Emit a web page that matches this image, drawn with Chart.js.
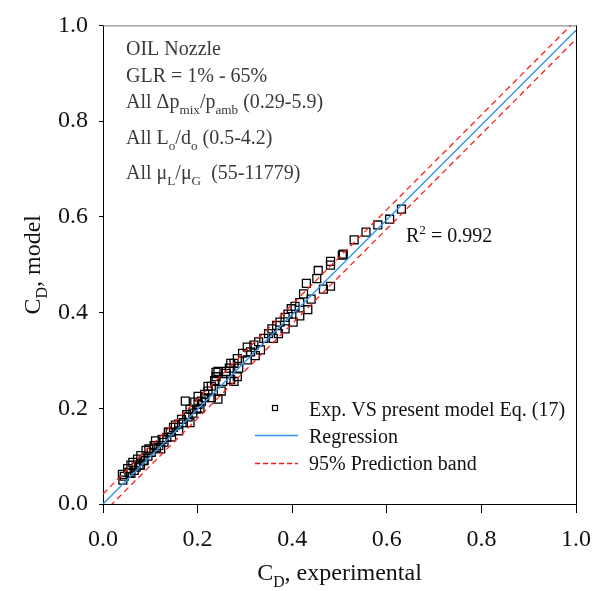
<!DOCTYPE html>
<html>
<head>
<meta charset="utf-8">
<script src="https://cdn.jsdelivr.net/npm/chart.js@4.4.1/dist/chart.umd.min.js"></script>
<style>
  html, body { margin: 0; padding: 0; background: #fff; }
</style>
</head>
<body>
<canvas id="cdChart" width="603" height="591"></canvas>
<script>
// experimental vs model discharge coefficient
const expCD = [
  0.041, 0.042, 0.045, 0.052, 0.055, 0.059, 0.059, 0.063, 0.066, 0.070,
  0.073, 0.076, 0.079, 0.080, 0.085, 0.087, 0.091, 0.095, 0.097, 0.102,
  0.108, 0.111, 0.113, 0.118, 0.122, 0.125, 0.129, 0.135, 0.138, 0.142,
  0.145, 0.149, 0.153, 0.160, 0.160, 0.166, 0.170, 0.174, 0.177, 0.180,
  0.184, 0.184, 0.190, 0.194, 0.198, 0.201, 0.201, 0.205, 0.208, 0.215,
  0.215, 0.222, 0.222, 0.229, 0.229, 0.236, 0.236, 0.239, 0.239, 0.243,
  0.243, 0.250, 0.253, 0.260, 0.260, 0.267, 0.270, 0.270, 0.277, 0.277,
  0.284, 0.284, 0.287, 0.295, 0.305, 0.305, 0.312, 0.319, 0.322, 0.329,
  0.333, 0.340, 0.350, 0.357, 0.360, 0.367, 0.371, 0.374, 0.385, 0.385,
  0.391, 0.398, 0.402, 0.406, 0.416, 0.416, 0.424, 0.430, 0.433, 0.440,
  0.452, 0.455, 0.466, 0.481, 0.481, 0.481, 0.506, 0.508, 0.531, 0.556,
  0.581, 0.606, 0.631
];
const modelCD = [
  0.062, 0.050, 0.058, 0.074, 0.066, 0.081, 0.064, 0.087, 0.070, 0.077,
  0.094, 0.081, 0.081, 0.101, 0.090, 0.091, 0.112, 0.100, 0.115, 0.108,
  0.122, 0.132, 0.118, 0.122, 0.115, 0.135, 0.129, 0.139, 0.150, 0.150,
  0.140, 0.160, 0.165, 0.167, 0.153, 0.177, 0.170, 0.215, 0.187, 0.182,
  0.198, 0.170, 0.190, 0.213, 0.198, 0.225, 0.208, 0.200, 0.215, 0.222,
  0.229, 0.236, 0.246, 0.222, 0.246, 0.256, 0.258, 0.266, 0.275, 0.277,
  0.219, 0.236, 0.256, 0.273, 0.277, 0.284, 0.260, 0.294, 0.256, 0.294,
  0.266, 0.304, 0.284, 0.315, 0.301, 0.328, 0.318, 0.332, 0.310, 0.339,
  0.322, 0.346, 0.356, 0.366, 0.346, 0.373, 0.356, 0.380, 0.366, 0.390,
  0.397, 0.408, 0.380, 0.413, 0.421, 0.393, 0.439, 0.461, 0.406, 0.428,
  0.471, 0.488, 0.449, 0.455, 0.499, 0.507, 0.520, 0.522, 0.552, 0.568,
  0.583, 0.595, 0.616
];

// regression and 95% prediction band end points
const lineX = [0, 1];
const regressionY = [0.0, 0.99];
const upperBandY = [0.021, 1.011];
const lowerBandY = [-0.019, 0.971];

const tickValues = [0, 0.2, 0.4, 0.6, 0.8, 1.0];
const tickLabels = ['0.0', '0.2', '0.4', '0.6', '0.8', '1.0'];

const SERIF = '"Liberation Serif", "Times New Roman", serif';
const BLUE = '#3593ee';
const RED = '#ff1e1e';

const toXY = (xs, ys) => xs.map((x, i) => ({ x: x, y: ys[i] }));

// draw text with sub/superscripts, parts = [[text, mode], ...]
function richText(ctx, x, y, parts, size) {
  let cx = x;
  for (const [t, m] of parts) {
    const s = m ? size * 0.66 : size;
    ctx.font = s + 'px ' + SERIF;
    const dy = m === 'sub' ? size * 0.28 : (m === 'sup' ? -size * 0.42 : 0);
    ctx.fillText(t, cx, y + dy);
    cx += ctx.measureText(t).width;
  }
  return cx - x;
}
function richWidth(ctx, parts, size) {
  let w = 0;
  for (const [t, m] of parts) {
    ctx.font = (m ? size * 0.66 : size) + 'px ' + SERIF;
    w += ctx.measureText(t).width;
  }
  return w;
}

const notesPlugin = {
  id: 'notes',
  afterDraw(chart) {
    const ctx = chart.ctx;
    const a = chart.chartArea;
    ctx.save();

    // frame: grey top, black right
    ctx.lineWidth = 1;
    ctx.strokeStyle = '#777';
    ctx.beginPath(); ctx.moveTo(a.left, a.top + 0.5); ctx.lineTo(a.right, a.top + 0.5); ctx.stroke();
    ctx.strokeStyle = '#000';
    ctx.beginPath(); ctx.moveTo(a.right + 0.5, a.top); ctx.lineTo(a.right + 0.5, a.bottom); ctx.stroke();

    ctx.textBaseline = 'alphabetic';
    ctx.textAlign = 'left';

    // info block
    ctx.fillStyle = '#3a3a3a';
    const info = [
      [['OIL Nozzle']],
      [['GLR = 1% - 65%']],
      [['All \u0394p'], ['mix', 'sub'], ['/p'], ['amb', 'sub'], [' (0.29-5.9)']],
      [['All L'], ['o', 'sub'], ['/d'], ['o', 'sub'], [' (0.5-4.2)']],
      [['All \u03bc'], ['L', 'sub'], ['/\u03bc'], ['G', 'sub'], ['  (55-11779)']]
    ];
    const infoY = [55, 82, 108, 144, 179];
    info.forEach((p, i) => richText(ctx, 126, infoY[i], p, 20));

    // R squared
    ctx.fillStyle = '#111';
    richText(ctx, 406, 242, [['R'], ['2', 'sup'], [' = 0.992']], 20);

    // legend
    ctx.fillStyle = '#111';
    ctx.strokeStyle = '#000';
    ctx.lineWidth = 1.2;
    ctx.strokeRect(272.5, 405.5, 5, 5);
    richText(ctx, 309, 416, [['Exp. VS present model Eq. (17)']], 20);
    ctx.strokeStyle = BLUE;
    ctx.lineWidth = 1.4;
    ctx.beginPath(); ctx.moveTo(255, 435.5); ctx.lineTo(298, 435.5); ctx.stroke();
    richText(ctx, 309, 443, [['Regression']], 20);
    ctx.strokeStyle = RED;
    ctx.lineWidth = 1.3;
    ctx.setLineDash([5, 3]);
    ctx.beginPath(); ctx.moveTo(255, 463.5); ctx.lineTo(298, 463.5); ctx.stroke();
    ctx.setLineDash([]);
    richText(ctx, 309, 470, [['95% Prediction band']], 20);

    // axis titles
    ctx.fillStyle = '#111';
    const xt = [['C'], ['D', 'sub'], [', experimental']];
    const xw = richWidth(ctx, xt, 24);
    richText(ctx, (a.left + a.right) / 2 - xw / 2, 580, xt, 24);

    const yt = [['C'], ['D', 'sub'], [', model']];
    const yw = richWidth(ctx, yt, 24);
    ctx.translate(40, (a.top + a.bottom) / 2);
    ctx.rotate(-Math.PI / 2);
    richText(ctx, -yw / 2, 0, yt, 24);

    ctx.restore();
  }
};

const axisCommon = (tickLen, pad) => ({
  type: 'linear',
  min: 0,
  max: 1,
  afterBuildTicks: s => { s.ticks = tickValues.map(v => ({ value: v })); },
  ticks: {
    callback: (v, i) => tickLabels[i],
    color: '#111',
    font: { family: SERIF, size: 24 },
    padding: pad,
    maxRotation: 0,
    autoSkip: false
  },
  grid: {
    display: true,
    drawOnChartArea: false,
    drawTicks: true,
    tickLength: tickLen,
    color: '#000',
    lineWidth: 1
  },
  border: { display: true, color: '#000', width: 1 }
});

const xAxis = axisCommon(9, 12);
xAxis.afterFit = s => { s.height = 87; };
const yAxis = axisCommon(4, 11);
yAxis.afterFit = s => { s.width = 103; };

new Chart(document.getElementById('cdChart').getContext('2d'), {
  type: 'scatter',
  data: {
    datasets: [
      {
        label: 'Regression',
        type: 'line',
        data: toXY(lineX, regressionY),
        borderColor: BLUE,
        borderWidth: 1.4,
        pointRadius: 0,
        fill: false
      },
      {
        label: '95% Prediction band',
        type: 'line',
        data: toXY(lineX, upperBandY),
        borderColor: RED,
        borderWidth: 1.3,
        borderDash: [6, 4],
        pointRadius: 0,
        fill: false
      },
      {
        label: '95% Prediction band (lower)',
        type: 'line',
        data: toXY(lineX, lowerBandY),
        borderColor: RED,
        borderWidth: 1.3,
        borderDash: [6, 4],
        pointRadius: 0,
        fill: false
      },
      {
        label: 'Exp. VS present model Eq. (17)',
        data: toXY(expCD, modelCD),
        pointStyle: 'rect',
        pointRadius: 5.6,
        pointBorderColor: '#000',
        pointBorderWidth: 1.3,
        pointBackgroundColor: 'rgba(0,0,0,0)'
      }
    ]
  },
  options: {
    responsive: false,
    animation: false,
    layout: { padding: { top: 20, right: 18, left: 0, bottom: 0 } },
    plugins: { legend: { display: false }, tooltip: { enabled: false } },
    scales: { x: xAxis, y: yAxis }
  },
  plugins: [notesPlugin]
});
</script>
</body>
</html>
